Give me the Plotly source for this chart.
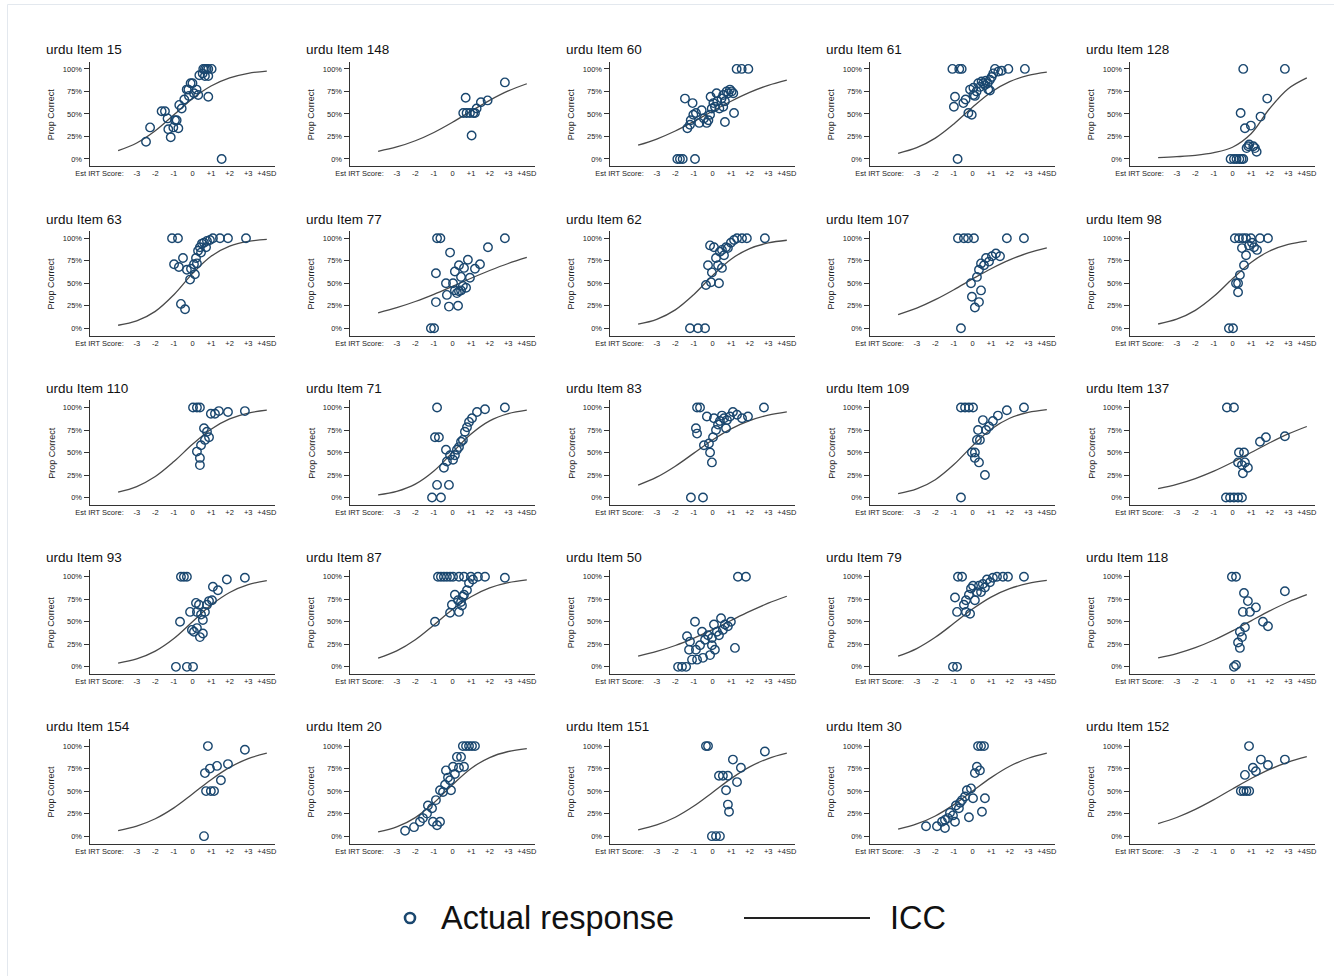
import plotly.graph_objects as go

W, H = 1334, 976

# ---------------- data ----------------
item_ids = [15, 148, 60, 61, 128,
            63, 77, 62, 107, 98,
            110, 71, 83, 109, 137,
            93, 87, 50, 79, 118,
            154, 20, 151, 30, 152]

theta_grid = [-4, -3, -2, -1, 0, 1, 2, 3, 4]

x_tickvals = [-5, -3, -2, -1, 0, 1, 2, 3, 4]
x_ticktext = ["Est IRT Score:", "-3", "-2", "-1", "0", "+1", "+2", "+3", "+4SD"]
y_tickvals = [0, 0.25, 0.5, 0.75, 1.0]
y_ticktext = ["0%", "25%", "50%", "75%", "100%"]

x_15 = [-2.5,-2.28,-1.66,-1.48,-1.34,-1.3,-1.17,-1.03,-0.94,-0.85,-0.76,-0.71,-0.58,-0.44,-0.31,-0.22,-0.19,-0.1,0.0,0.08,0.22,0.31,0.37,0.55,0.58,0.67,0.76,0.85,1.03,0.67,0.85,0.85,1.57]
y_15 = [0.19,0.35,0.53,0.53,0.45,0.33,0.24,0.35,0.43,0.43,0.34,0.6,0.56,0.66,0.77,0.77,0.7,0.84,0.84,0.73,0.77,0.71,0.93,0.95,1.0,1.0,1.0,1.0,1.0,0.92,0.92,0.69,0.0]
icc_15 = [0.092,0.177,0.313,0.49,0.67,0.81,0.90,0.951,0.976]

x_148 = [0.71,0.58,0.76,0.94,1.12,1.21,1.03,1.3,1.53,1.89,2.82]
y_148 = [0.68,0.51,0.51,0.51,0.51,0.51,0.26,0.56,0.63,0.65,0.85]
icc_148 = [0.085,0.133,0.202,0.294,0.407,0.531,0.651,0.755,0.835]

x_60 = [-1.89,-1.75,-1.6,-0.94,-1.48,-1.07,-1.35,-1.21,-1.17,-1.03,-0.89,-0.71,-0.58,-0.46,-0.31,-0.22,-0.13,-0.04,-0.1,0.05,0.13,0.22,0.26,0.37,0.49,0.58,0.67,0.58,0.67,0.76,0.85,0.94,1.03,1.12,1.16,1.3,1.57,1.93]
y_60 = [0,0,0,0,0.67,0.62,0.34,0.38,0.43,0.49,0.51,0.40,0.54,0.45,0.40,0.43,0.49,0.56,0.69,0.62,0.58,0.73,0.64,0.56,0.67,0.58,0.64,0.71,0.41,0.75,0.73,0.77,0.75,0.73,0.51,1,1,1]
icc_60 = [0.152,0.221,0.31,0.416,0.53,0.641,0.739,0.818,0.876]

x_61 = [-1.08,-0.71,-0.58,-0.8,-0.94,-1.0,-0.49,-0.37,-0.22,-0.04,-0.13,0.05,0.13,0.22,0.31,0.4,0.49,0.58,0.67,0.73,0.82,0.85,0.94,1.03,1.12,0.94,1.21,1.39,1.57,1.93,2.82,0.05]
y_61 = [1,1,1,0,0.69,0.58,0.62,0.66,0.51,0.49,0.77,0.79,0.70,0.75,0.84,0.80,0.86,0.84,0.82,0.87,0.84,0.77,0.88,0.91,0.95,0.76,1.0,0.97,0.98,1.0,1.0,0.71]
icc_61 = [0.063,0.125,0.231,0.389,0.574,0.741,0.858,0.928,0.964]

x_128 = [0.58,2.82,0.44,1.87,1.51,0.67,0.99,0.9,0.76,0.85,1.12,1.21,1.3,-0.1,0.08,0.22,0.37,0.49,0.58]
y_128 = [1,1,0.51,0.67,0.47,0.34,0.37,0.16,0.12,0.14,0.14,0.12,0.08,0,0,0,0,0,0]
icc_128 = [0.015,0.025,0.04,0.07,0.13,0.28,0.56,0.78,0.90]

x_63 = [-1.1,-0.78,-0.99,-0.73,-0.51,-0.62,-0.4,-0.3,-0.13,-0.08,0.08,0.19,0.3,0.4,0.51,0.62,0.78,0.94,1.1,1.48,1.91,2.88,0.24,0.46,0.73,0.13]
y_63 = [1,1,0.71,0.68,0.78,0.27,0.21,0.65,0.54,0.66,0.71,0.78,0.86,0.9,0.94,0.95,0.97,0.98,1,1,1,1,0.72,0.84,0.9,0.6]
icc_63 = [0.033,0.082,0.187,0.372,0.606,0.799,0.911,0.964,0.986]

x_77 = [-1.16,-0.99,-0.83,-0.65,-0.89,-0.89,-0.13,-0.3,-0.19,-0.35,0.03,0.13,0.24,0.35,0.46,0.56,0.73,0.13,0.35,0.46,0.62,0.83,0.94,1.21,1.48,1.91,2.82,0.3]
y_77 = [0,0,1,1,0.29,0.61,0.84,0.37,0.24,0.5,0.5,0.42,0.39,0.41,0.42,0.47,0.45,0.63,0.70,0.57,0.67,0.76,0.56,0.66,0.71,0.9,1.0,0.25]
icc_77 = [0.171,0.228,0.297,0.377,0.465,0.555,0.641,0.719,0.786]

x_62 = [-1.21,-0.78,-0.4,-0.35,-0.08,0.35,-0.24,-0.13,0.08,0.19,-0.03,0.3,0.4,0.51,0.62,0.73,0.83,0.99,1.16,1.32,1.59,1.85,2.82,0.51]
y_62 = [0,0,0,0.48,0.51,0.5,0.70,0.92,0.9,0.78,0.62,0.7,0.85,0.87,0.81,0.9,0.89,0.95,0.98,1,1,1,1,0.67]
icc_62 = [0.045,0.099,0.204,0.375,0.584,0.767,0.885,0.947,0.977]

x_107 = [-0.78,-0.46,-0.24,0.08,1.85,2.77,-0.62,-0.08,-0.03,0.13,0.35,0.46,0.24,0.35,0.46,0.62,0.73,0.89,1.05,1.26,1.48]
y_107 = [1,1,1,1,1,1,0,0.5,0.35,0.23,0.29,0.42,0.57,0.65,0.72,0.70,0.78,0.74,0.8,0.83,0.8]
icc_107 = [0.151,0.223,0.317,0.428,0.547,0.661,0.759,0.836,0.892]

x_98 = [-0.19,0.03,0.13,0.35,0.56,0.73,0.99,1.48,1.91,0.89,1.05,1.16,1.32,0.19,0.3,0.3,0.4,0.62,0.51,0.73]
y_98 = [0,0,1,1,1,1,1,1,1,0.92,0.95,0.9,0.87,0.5,0.5,0.4,0.59,0.70,0.89,0.81]
icc_98 = [0.047,0.1,0.198,0.354,0.55,0.731,0.858,0.931,0.968]

x_110 = [0.03,0.24,0.4,0.99,1.21,1.42,1.91,2.82,0.62,0.78,0.67,0.89,0.46,0.4,0.4,0.24]
y_110 = [1,1,1,0.93,0.93,0.96,0.95,0.96,0.77,0.73,0.64,0.67,0.58,0.44,0.36,0.51]
icc_110 = [0.06,0.122,0.233,0.399,0.591,0.759,0.873,0.938,0.970]

x_71 = [-1.1,-0.62,-0.83,-0.94,-0.73,-0.83,-0.35,-0.19,-0.3,-0.13,0.03,0.13,0.24,0.35,0.46,0.56,0.67,0.78,0.89,1.05,1.32,1.75,2.82,-0.46]
y_71 = [0,0,1,0.67,0.67,0.14,0.53,0.14,0.4,0.47,0.42,0.47,0.53,0.56,0.62,0.64,0.73,0.78,0.84,0.88,0.95,0.98,1.0,0.33]
icc_71 = [0.03,0.069,0.149,0.295,0.5,0.705,0.851,0.931,0.970]

x_83 = [-1.16,-0.51,-0.83,-0.67,-0.89,-0.83,-0.46,-0.19,-0.13,-0.03,-0.3,0.03,0.19,0.3,0.4,0.51,0.62,0.78,0.94,1.1,1.32,1.59,1.91,2.77,0.08,0.73]
y_83 = [0,0,1,1,0.77,0.71,0.58,0.6,0.5,0.39,0.9,0.67,0.75,0.81,0.85,0.91,0.88,0.86,0.9,0.95,0.92,0.88,0.9,1.0,0.88,0.77]
icc_83 = [0.138,0.226,0.348,0.493,0.639,0.763,0.854,0.915,0.951]

x_109 = [-0.62,-0.4,-0.19,0.03,-0.62,-0.03,0.13,0.24,0.3,0.4,0.13,0.35,0.67,0.56,0.73,0.89,1.1,1.37,1.85,2.77]
y_109 = [1,1,1,1,0,0.5,0.5,0.64,0.75,0.64,0.44,0.39,0.25,0.86,0.75,0.79,0.85,0.91,0.97,1.0]
icc_109 = [0.043,0.095,0.198,0.366,0.574,0.759,0.881,0.945,0.976]

x_137 = [-0.3,0.08,-0.35,-0.13,0.08,0.3,0.51,0.35,0.62,0.3,0.67,0.51,0.56,1.48,1.8,2.82,0.83]
y_137 = [1,1,0,0,0,0,0,0.5,0.5,0.39,0.39,0.36,0.27,0.62,0.67,0.68,0.33]
icc_137 = [0.1,0.147,0.211,0.293,0.392,0.5,0.608,0.707,0.789]

x_93 = [-0.89,-0.3,0.03,-0.62,-0.46,-0.3,-0.67,-0.13,-0.03,0.08,0.19,0.35,0.24,0.46,0.56,0.67,0.78,0.89,1.05,1.1,1.37,1.85,2.82,0.4,0.56,0.24]
y_93 = [0,0,0,1,1,1,0.5,0.61,0.41,0.39,0.71,0.69,0.61,0.58,0.52,0.61,0.69,0.73,0.74,0.89,0.85,0.97,0.99,0.33,0.37,0.43]
icc_93 = [0.042,0.088,0.174,0.314,0.5,0.686,0.826,0.912,0.958]

x_87 = [-0.94,-0.78,-0.62,-0.46,-0.3,-0.13,0.03,0.35,0.62,0.99,1.37,1.75,2.82,-0.13,-0.03,0.13,0.3,0.46,0.62,0.78,0.89,1.1,0.35,0.51,0.56]
y_87 = [0.5,1,1,1,1,1,1,1,1,1,1,1,0.99,0.6,0.69,0.8,0.74,0.72,0.8,0.85,0.93,0.97,0.61,0.68,0.78]
icc_87 = [0.096,0.177,0.301,0.465,0.636,0.779,0.877,0.935,0.966]

x_50 = [-1.85,-1.64,-1.42,-1.1,-1.26,-1.37,-0.94,-1.21,-0.89,-0.67,-0.51,-0.83,-0.4,-0.24,-0.13,-0.03,-0.03,0.13,0.24,0.35,0.46,0.56,0.67,0.83,0.99,1.21,1.37,1.8,-0.56,0.08]
y_50 = [0,0,0,0.08,0.19,0.34,0.5,0.28,0.19,0.24,0.1,0.08,0.3,0.35,0.13,0.24,0.32,0.19,0.39,0.35,0.54,0.41,0.47,0.45,0.5,0.21,1,1,0.39,0.47]
icc_50 = [0.12,0.171,0.237,0.319,0.413,0.515,0.615,0.707,0.784]

x_79 = [-1.05,-0.83,-0.78,-0.56,-0.94,-0.83,-0.35,-0.13,-0.35,-0.19,-0.08,0.03,0.13,0.24,0.35,0.46,0.56,0.67,0.78,0.94,1.1,1.32,1.64,1.91,2.77,-0.46]
y_79 = [0,0,1,1,0.77,0.61,0.61,0.59,0.74,0.8,0.87,0.9,0.74,0.83,0.9,0.83,0.92,0.88,0.97,0.94,0.99,1,1,1,1,0.69]
icc_79 = [0.118,0.203,0.328,0.483,0.642,0.775,0.868,0.927,0.960]

x_118 = [-0.03,0.19,0.08,0.19,0.62,0.83,0.56,0.94,1.26,1.64,1.91,2.82,0.4,0.67,0.51,0.3,0.4]
y_118 = [1,1,0,0.02,0.82,0.73,0.61,0.61,0.66,0.5,0.45,0.84,0.39,0.44,0.33,0.27,0.21]
icc_118 = [0.1,0.147,0.213,0.298,0.4,0.511,0.621,0.72,0.801]

x_154 = [0.83,2.82,0.67,0.94,1.32,1.91,1.53,0.73,0.99,1.16,0.62]
y_154 = [1,0.96,0.7,0.75,0.78,0.8,0.62,0.5,0.5,0.5,0]
icc_154 = [0.061,0.111,0.193,0.314,0.468,0.627,0.763,0.861,0.922]

x_20 = [-2.55,-2.07,-1.75,-1.59,-1.37,-1.32,-1.1,-0.89,-0.83,-0.67,-0.67,-0.51,-0.4,-0.35,-0.24,-0.13,0.03,0.13,0.24,0.35,0.46,0.56,0.73,0.89,1.05,1.21,0.62,-0.08,-1.05]
y_20 = [0.06,0.1,0.16,0.2,0.25,0.34,0.31,0.4,0.12,0.16,0.51,0.49,0.57,0.73,0.65,0.62,0.77,0.69,0.88,0.76,0.88,1,1,1,1,1,0.77,0.51,0.16]
icc_20 = [0.047,0.102,0.206,0.37,0.571,0.752,0.873,0.94,0.973]

x_151 = [-0.35,-0.24,-0.03,0.19,0.4,0.35,0.56,0.83,1.1,1.53,1.32,0.83,0.89,0.73,2.82]
y_151 = [1,1,0,0,0,0.67,0.67,0.67,0.85,0.76,0.6,0.35,0.27,0.51,0.94]
icc_151 = [0.07,0.125,0.21,0.334,0.485,0.639,0.769,0.862,0.921]

x_30 = [-2.5,-1.91,-1.64,-1.48,-1.32,-1.48,-1.21,-1.05,-0.94,-0.89,-0.67,-0.56,-0.4,-0.3,-0.19,-0.08,0.03,0.13,0.24,0.4,0.3,0.46,0.62,0.51,0.67,-0.73]
y_30 = [0.11,0.11,0.16,0.18,0.2,0.09,0.26,0.23,0.16,0.34,0.37,0.4,0.44,0.51,0.21,0.53,0.42,0.7,0.77,0.73,1,1,1,0.27,0.42,0.31]
icc_30 = [0.077,0.135,0.224,0.35,0.5,0.65,0.776,0.865,0.923]

x_152 = [0.89,0.45,0.6,0.75,0.9,0.67,1.1,1.26,1.53,1.91,2.82]
y_152 = [1,0.5,0.5,0.5,0.5,0.68,0.76,0.72,0.85,0.79,0.85]
icc_152 = [0.139,0.207,0.297,0.405,0.524,0.64,0.742,0.823,0.882]

panels = [
    (15, x_15, y_15, icc_15), (148, x_148, y_148, icc_148), (60, x_60, y_60, icc_60),
    (61, x_61, y_61, icc_61), (128, x_128, y_128, icc_128),
    (63, x_63, y_63, icc_63), (77, x_77, y_77, icc_77), (62, x_62, y_62, icc_62),
    (107, x_107, y_107, icc_107), (98, x_98, y_98, icc_98),
    (110, x_110, y_110, icc_110), (71, x_71, y_71, icc_71), (83, x_83, y_83, icc_83),
    (109, x_109, y_109, icc_109), (137, x_137, y_137, icc_137),
    (93, x_93, y_93, icc_93), (87, x_87, y_87, icc_87), (50, x_50, y_50, icc_50),
    (79, x_79, y_79, icc_79), (118, x_118, y_118, icc_118),
    (154, x_154, y_154, icc_154), (20, x_20, y_20, icc_20), (151, x_151, y_151, icc_151),
    (30, x_30, y_30, icc_30), (152, x_152, y_152, icc_152),
]

# ---------------- styling / layout ----------------
NAVY = "#1a476f"
LINE = "#4a4a4a"
FONT = "Liberation Sans, Arial, Helvetica, sans-serif"

X_LEFT0, X_RIGHT0, COL_STEP = 89.5, 275.0, 260.0
Y_TOP0, Y_BOT0, ROW_STEP = 61.7, 166.4, 169.3

fig = go.Figure()
layout = dict(
    width=W, height=H, autosize=False,
    margin=dict(l=0, r=0, t=0, b=0, pad=0, autoexpand=False),
    paper_bgcolor="white", plot_bgcolor="white",
    showlegend=False,
    font=dict(family=FONT, color="#222"),
)
annotations = []
shapes = []

for i, (item, xs, ys, icc) in enumerate(panels):
    r, c = divmod(i, 5)
    n = i + 1
    xa = "x" if n == 1 else f"x{n}"
    ya = "y" if n == 1 else f"y{n}"
    left = X_LEFT0 + c * COL_STEP
    right = X_RIGHT0 + c * COL_STEP
    top = Y_TOP0 + r * ROW_STEP
    bot = Y_BOT0 + r * ROW_STEP

    fig.add_trace(go.Scatter(
        x=theta_grid, y=icc, mode="lines", xaxis=xa, yaxis=ya,
        line=dict(color=LINE, width=1.3, shape="spline", smoothing=1.0),
        hoverinfo="skip", cliponaxis=False))
    fig.add_trace(go.Scatter(
        x=xs, y=ys, mode="markers", xaxis=xa, yaxis=ya, cliponaxis=False,
        marker=dict(symbol="circle-open", size=8.5, color=NAVY,
                    line=dict(color=NAVY, width=1.4))))

    layout["xaxis" if n == 1 else f"xaxis{n}"] = dict(
        domain=[left / W, right / W], anchor=ya, automargin=False,
        range=[-5.54, 4.44], fixedrange=True,
        showgrid=False, zeroline=False,
        showline=True, linecolor="#333", linewidth=1,
        ticks="", tickvals=x_tickvals, ticktext=x_ticktext,
        tickfont=dict(size=7.5, color="#222", family=FONT),
    )
    layout["yaxis" if n == 1 else f"yaxis{n}"] = dict(
        domain=[1 - bot / H, 1 - top / H], anchor=xa, automargin=False,
        range=[-0.083, 1.08], fixedrange=True,
        showgrid=False, zeroline=False,
        showline=True, linecolor="#333", linewidth=1,
        ticks="outside", ticklen=5, tickcolor="#333", tickwidth=1,
        tickvals=y_tickvals, ticktext=y_ticktext,
        tickfont=dict(size=7.5, color="#222", family=FONT),
    )
    annotations.append(dict(
        text=f"urdu Item {item}", xref="paper", yref="paper",
        x=(43.5 + c * COL_STEP) / W, y=1 - (top - 12) / H,
        xanchor="left", yanchor="middle", showarrow=False,
        font=dict(size=13.5, color="#111", family=FONT)))
    annotations.append(dict(
        text="Prop Correct", xref="paper", yref="paper",
        x=(51.2 + c * COL_STEP) / W, y=1 - ((top + bot) / 2) / H,
        xanchor="center", yanchor="middle", textangle=-90, showarrow=False,
        font=dict(size=9, color="#222", family=FONT)))

# legend (drawn manually at the bottom)
LEG_Y = 918
shapes.append(dict(type="circle", xref="paper", yref="paper",
                   x0=(410 - 5) / W, x1=(410 + 5) / W,
                   y0=1 - (LEG_Y + 5) / H, y1=1 - (LEG_Y - 5) / H,
                   line=dict(color=NAVY, width=2.6)))
annotations.append(dict(text="Actual response", xref="paper", yref="paper",
                        x=439 / W, y=1 - LEG_Y / H, xanchor="left", yanchor="middle",
                        showarrow=False, font=dict(size=32.5, color="#111", family=FONT)))
shapes.append(dict(type="line", xref="paper", yref="paper",
                   x0=744 / W, x1=870 / W, y0=1 - LEG_Y / H, y1=1 - LEG_Y / H,
                   line=dict(color="#222", width=2.2)))
annotations.append(dict(text="ICC", xref="paper", yref="paper",
                        x=888 / W, y=1 - LEG_Y / H, xanchor="left", yanchor="middle",
                        showarrow=False, font=dict(size=32.5, color="#111", family=FONT)))

# faint outer frame (top and left edges)
shapes.append(dict(type="line", xref="paper", yref="paper",
                   x0=7.5 / W, x1=1.0, y0=1 - 4.5 / H, y1=1 - 4.5 / H,
                   line=dict(color="#e3e8ee", width=1)))
shapes.append(dict(type="line", xref="paper", yref="paper",
                   x0=7.5 / W, x1=7.5 / W, y0=0.0, y1=1 - 4.5 / H,
                   line=dict(color="#e3e8ee", width=1)))

layout["annotations"] = annotations
layout["shapes"] = shapes
fig.update_layout(**layout)

fig.write_html("out.html")
